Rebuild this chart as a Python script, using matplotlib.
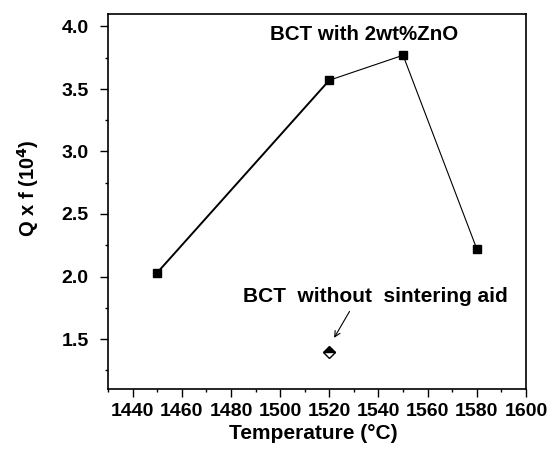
import matplotlib.pyplot as plt
from matplotlib.ticker import MultipleLocator

plt.rcParams['font.family'] = ['Liberation Sans', 'DejaVu Sans']
plt.rcParams['font.weight'] = 'bold'

# data
temp_zno = [1450, 1520, 1550, 1580]
qf_zno = [2.03, 3.57, 3.77, 2.22]
temp_pure = [1520]
qf_pure = [1.40]

fig = plt.figure(figsize=(5.52, 4.54), dpi=100)
ax = fig.add_axes([108/552, 1 - 389/454, (526-108)/552, (389-14)/454])

# first segment drawn heavier, as in the original
ax.plot(temp_zno[:2], qf_zno[:2], color='black', lw=1.4)
ax.plot(temp_zno[1:], qf_zno[1:], color='black', lw=0.8)
ax.plot(temp_zno, qf_zno, ls='none', marker='s', ms=5.5, color='black')
ax.plot(temp_pure, qf_pure, ls='none', marker='D', ms=6.5, color='black',
        fillstyle='top', markerfacecoloralt='white', mew=1.0)

ax.text(1496, 3.94, 'BCT with 2wt%ZnO', fontsize=14.8, fontweight='bold', va='center')
ax.text(1485, 1.84, 'BCT  without  sintering aid', fontsize=15, fontweight='bold', va='center')
ax.annotate('', xy=(1521.4, 1.49), xytext=(1528.8, 1.74),
            arrowprops=dict(arrowstyle='->', color='black', lw=0.8))

ax.set_xlim(1430, 1600)
ax.set_ylim(1.1, 4.1)
ax.xaxis.set_major_locator(MultipleLocator(20))
ax.xaxis.set_minor_locator(MultipleLocator(10))
ax.yaxis.set_major_locator(MultipleLocator(0.5))
ax.yaxis.set_minor_locator(MultipleLocator(0.25))
ax.yaxis.set_major_formatter(plt.FormatStrFormatter('%.1f'))
ax.tick_params(which='both', direction='out', top=False, right=False, labelsize=14)
ax.tick_params(which='major', length=5.5, width=1)
ax.tick_params(which='minor', length=2.5, width=1)
ax.tick_params(axis='y', which='major', pad=8.5)
ax.tick_params(axis='x', which='major', pad=4.5)
for s in ax.spines.values():
    s.set_linewidth(1.2)

ax.set_xlabel('Temperature (°C)', fontsize=15, fontweight='bold')
ax.set_ylabel('Q x f (10$^\\mathbf{4}$)', fontsize=14.5, fontweight='bold')
ax.xaxis.set_label_coords(0.49, -0.094)
ax.yaxis.set_label_coords(-0.161, 0.536)

fig.savefig('out.png', dpi=100)
